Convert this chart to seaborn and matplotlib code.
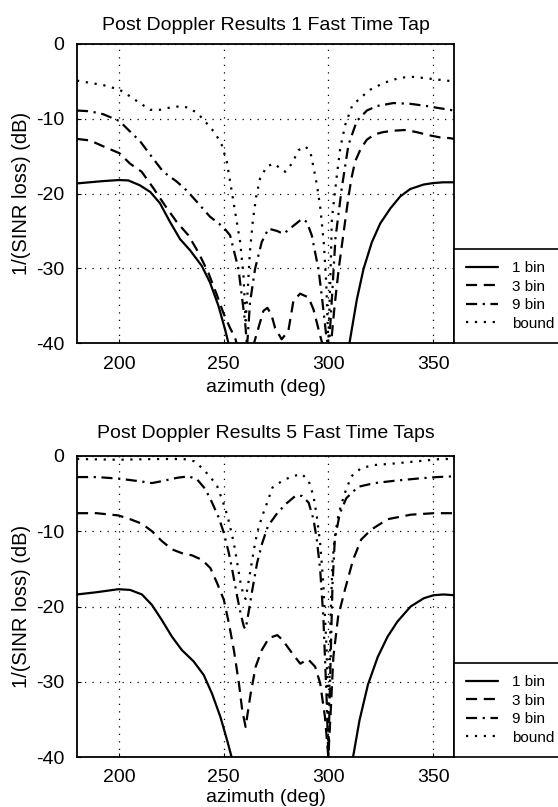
import matplotlib
matplotlib.use("Agg")
import matplotlib.pyplot as plt
import seaborn as sns

# ---------------- data: top panel (1 fast time tap) ----------------
top_1bin_x = [180, 186, 192, 200, 204.5, 210, 215, 219.6, 224.4, 229.2, 234, 239.6, 243.5,
              247.5, 250.7, 252.3, 254, 308.5, 310.1, 313.6, 316.8, 320.8, 324.8, 329.6,
              334.3, 339.1, 345.5, 350.2, 355, 360]
top_1bin_y = [-18.65, -18.5, -18.35, -18.2, -18.25, -18.9, -19.8, -21.3, -23.8, -26.1, -27.6,
              -29.7, -31.9, -35, -38.2, -40, -41.5, -41.5, -40, -34.2, -30.1, -26.5, -24, -22,
              -20.4, -19.4, -18.8, -18.6, -18.5, -18.5]

top_3bin_x = [180, 186.2, 192.6, 200.2, 205.3, 210.9, 216.5, 222, 227.6, 233.2, 238, 242.7,
              246.7, 249.9, 253.1, 255.5, 257.5, 263, 266.6, 269, 270.9, 272.8, 274.6, 277.7,
              280.9, 283.3, 286.5, 290.5, 292.9, 296, 298, 301, 303, 305, 307.1, 309.5, 311,
              312.8, 315.5, 318.4, 322, 326, 331, 337, 342.3, 348, 353.4, 358.2, 360]
top_3bin_y = [-12.7, -12.9, -13.7, -14.6, -16, -17.1, -19.3, -21.6, -23.8, -25.6, -27.9, -30.6,
              -33.5, -36, -38, -39.3, -41.5, -41.5, -38, -35.7, -35.3, -36.2, -38, -39.5,
              -38.4, -34.4, -33.4, -33.9, -35.5, -38.9, -41, -41, -35, -30, -25.6, -20.7, -18,
              -15.7, -14, -12.8, -12.1, -11.8, -11.6, -11.5, -11.8, -12.2, -12.5, -12.6, -12.7]

top_9bin_x = [180, 186.2, 192.6, 200.2, 205.3, 210.1, 214.9, 221.2, 227.6, 232.4, 237.2, 243.5,
              249.9, 253.1, 254.7, 257.1, 258.7, 260.3, 261.2, 262.6, 265, 268.2, 271.4, 275.4,
              278.6, 283.4, 287.4, 289.7, 292.1, 293.7, 295.3, 297, 299, 300.2, 301.5, 303.4,
              306.4, 309.6, 313.6, 318.4, 323.2, 331.1, 339.1, 347, 353.4, 360]
top_9bin_y = [-8.9, -9, -9.4, -10.3, -11.7, -13, -14.8, -17.1, -18.4, -19.6, -21.1, -23.1,
              -24.5, -25.6, -27.4, -30.1, -33.7, -37.3, -40.5, -34.6, -30.1, -26.5, -24.7, -25,
              -25.4, -24.3, -23.4, -23.8, -25.6, -27.9, -30.1, -34, -39, -41, -35, -26,
              -19.3, -13.5, -10.3, -8.9, -8.3, -7.9, -8, -8.3, -8.6, -8.9]

top_bound_x = [180, 186.2, 192.6, 200.2, 205.3, 210, 214.9, 219.6, 224.4, 230, 234, 238, 241.9,
               245.9, 249.1, 251.5, 253.1, 254.7, 256.3, 257.9, 259.5, 260.5, 261.5, 262.5,
               264, 265.5, 267.4, 270.6, 273.8, 277, 279.4, 282.6, 285.8, 289, 291.4, 293,
               294.6, 296.2, 297.8, 299, 300, 301, 301.7, 304.1, 305.7, 308.1, 311.3, 315.3,
               320.1, 326.5, 334.4, 340.8, 347.1, 356.7, 360]
top_bound_y = [-4.9, -5.2, -5.5, -6.1, -7, -7.9, -8.8, -8.8, -8.5, -8.3, -8.6, -9.4, -10.6,
               -11.9, -13.5, -15.7, -18.4, -21.1, -23.8, -26.5, -31, -37, -33, -28,
               -23.5, -20.5, -18, -16.4, -16, -16.6, -17.1, -16, -14.2, -13.7, -14.4, -16.6,
               -18.9, -22, -26.5, -32, -40, -31, -23.4, -17.5, -13.9, -10.8, -8.3, -7.2,
               -6.1, -5.2, -4.5, -4.4, -4.6, -4.9, -5.0]

# ---------------- data: bottom panel (5 fast time taps) ----------------
bot_1bin_x = [180, 189.4, 199.8, 205.4, 211, 215.8, 220.5, 225.3, 230.1, 235.7, 240.5, 244.5,
              248.5, 251.7, 253.8, 255.5, 310, 311.8, 314.9, 318.9, 323.6, 328.3, 333, 339.3,
              345.6, 350.3, 355, 360]
bot_1bin_y = [-18.4, -18.1, -17.7, -17.8, -18.4, -19.8, -21.8, -24, -25.8, -27.3, -29.1, -31.6,
              -34.7, -37.8, -40, -41.5, -41.5, -40, -35.1, -30.4, -26.7, -24, -22, -20,
              -18.9, -18.5, -18.4, -18.5]

bot_3bin_x = [180, 189.4, 199.8, 205.4, 211, 215.8, 220.5, 225.3, 230.9, 234.9, 239.7, 243.7,
              246.9, 250.1, 252.5, 254.9, 257.3, 258.9, 260.5, 262.9, 265.3, 268.2, 271.6,
              275.6, 278, 282.7, 286.6, 290.3, 293.7, 296.1, 298.4, 300, 301.3, 302.4, 304.7,
              307.9, 311.8, 315.7, 320.4, 328.3, 339.3, 350.3, 360]
bot_3bin_y = [-7.6, -7.6, -7.9, -8.4, -9, -10, -11.3, -12.4, -13, -13.2, -13.8, -14.9,
              -16.9, -19.1, -22.2, -25.8, -30.2, -33.8, -36, -31.6, -28, -25.8, -24.2,
              -23.8, -24.4, -26.2, -27.6, -27, -28, -30.2, -34.7, -40, -33, -26.7, -21.3,
              -17.8, -13.8, -11.1, -9.8, -8.4, -7.8, -7.6, -7.6]

bot_9bin_x = [180, 189.4, 199.8, 205.4, 211, 215.8, 221.3, 227.7, 233.3, 237.3, 241.3, 244.5,
              247.7, 250.1, 252.5, 254.1, 256.5, 258.1, 259.7, 260.5, 261.3, 263.7, 266, 268.4,
              271.2, 275.6, 279.6, 284.3, 287.4, 290.6, 292.9, 294.5, 296.1, 297.6, 299.2, 300,
              301, 302, 303.1, 305.5, 308.6, 314.2, 322, 331.4, 342.5, 351.9, 360]
bot_9bin_y = [-2.8, -2.8, -3, -3.2, -3.4, -3.6, -3.3, -2.9, -2.7, -3.1, -4.4, -6.2,
              -8.2, -10.2, -12.9, -15.1, -18.7, -20.9, -22.7, -23, -21.8, -17.8, -14.2, -11.6,
              -9.3, -7.6, -6.4, -5.3, -5.3, -6.2, -8.4, -11.1, -15.1, -21.3, -32.4, -40,
              -28, -17, -11.1, -7.6, -5.6, -4.1, -3.6, -3.3, -3, -2.8, -2.7]

bot_bound_x = [180, 199.8, 216.6, 230.9, 236, 239.7, 243.7, 246.9, 249.3, 250.9, 252.5, 254.9,
               256.5, 258.1, 259.7, 260.5, 262.1, 264.5, 266, 268.4, 270.8, 273.3, 278, 282.7,
               287.4, 290.6, 292.9, 294.5, 296.1, 297.6, 299.2, 300, 301, 302, 303.1, 305,
               307.9, 311, 315.7, 322, 331.4, 342.5, 353.5, 360]
bot_bound_y = [-0.4, -0.5, -0.4, -0.4, -0.7, -1.6, -2.8, -4, -5.8, -7.1, -8.7, -11.6,
               -14.2, -16.9, -18.7, -19, -16.4, -12.4, -10.2, -8, -6.2, -4.2, -3.3, -2.7,
               -2.4, -3.3, -5.3, -8, -11.6, -16.9, -25.8, -40, -22, -14, -10.7, -7.6,
               -4.9, -2.7, -1.6, -1.2, -1, -0.7, -0.4, -0.4]

series_labels = ["1 bin", "3 bin", "9 bin", "bound"]
titles = ["Post Doppler Results 1 Fast Time Tap", "Post Doppler Results 5 Fast Time Taps"]
x_ticks = [200, 250, 300, 350]
y_ticks = [0, -10, -20, -30, -40]

# ---------------- style ----------------
sns.set_style("ticks")
plt.rcParams["font.family"] = ["Liberation Sans", "DejaVu Sans"]
plt.rcParams["axes.unicode_minus"] = False
plt.rcParams["text.color"] = "black"
plt.rcParams["axes.labelcolor"] = "black"
plt.rcParams["xtick.color"] = "black"
plt.rcParams["ytick.color"] = "black"

styles = ["-", (0, (5, 3)), (0, (5, 2.5, 1, 2.5)), (0, (1, 3))]

fig = plt.figure(figsize=(5.58, 8.07), dpi=100)
ax_top = fig.add_axes([77 / 558, 1 - 343 / 807, 377 / 558, 299 / 807])
ax_bot = fig.add_axes([77 / 558, 1 - 757 / 807, 377 / 558, 301 / 807])

panels = [
    (ax_top, [(top_1bin_x, top_1bin_y), (top_3bin_x, top_3bin_y),
              (top_9bin_x, top_9bin_y), (top_bound_x, top_bound_y)], titles[0], 10, 5),
    (ax_bot, [(bot_1bin_x, bot_1bin_y), (bot_3bin_x, bot_3bin_y),
              (bot_9bin_x, bot_9bin_y), (bot_bound_x, bot_bound_y)], titles[1], 13, 2),
]

for ax, series, title, tpad, xlpad in panels:
    for (xs, ys), lab, ls in zip(series, series_labels, styles):
        sns.lineplot(x=xs, y=ys, ax=ax, color="black", linewidth=1.6,
                     linestyle=ls, label=lab, sort=False, estimator=None)
    ax.set_xlim(180, 360)
    ax.set_ylim(-40, 0)
    ax.set_xticks(x_ticks)
    ax.set_yticks(y_ticks)
    ax.grid(True, color="black", linestyle=(0, (1, 5)), linewidth=0.9)
    for sp in ax.spines.values():
        sp.set_visible(True)
        sp.set_color("black")
        sp.set_linewidth(1.3)
    ax.tick_params(direction="in", length=3, width=0.8, labelsize=14, pad=9,
                   colors="black")
    ax.set_title(title, fontsize=14, pad=tpad, color="black")
    ax.set_xlabel("azimuth (deg)", fontsize=14, labelpad=xlpad)
    ax.set_ylabel("1/(SINR loss) (dB)", fontsize=14.5, labelpad=4)
    h, l = ax.get_legend_handles_labels()
    leg = ax.legend(h, l, loc="lower left", bbox_to_anchor=(1.0, 0.0), borderaxespad=0,
                    frameon=True, fancybox=False, edgecolor="black", framealpha=1,
                    fontsize=11, handlelength=2.1, handletextpad=0.9, labelspacing=0.3,
                    borderpad=0.8)
    leg.get_frame().set_linewidth(1.2)
    for t in leg.get_texts():
        t.set_color("black")

fig.savefig("out.png", dpi=100)
